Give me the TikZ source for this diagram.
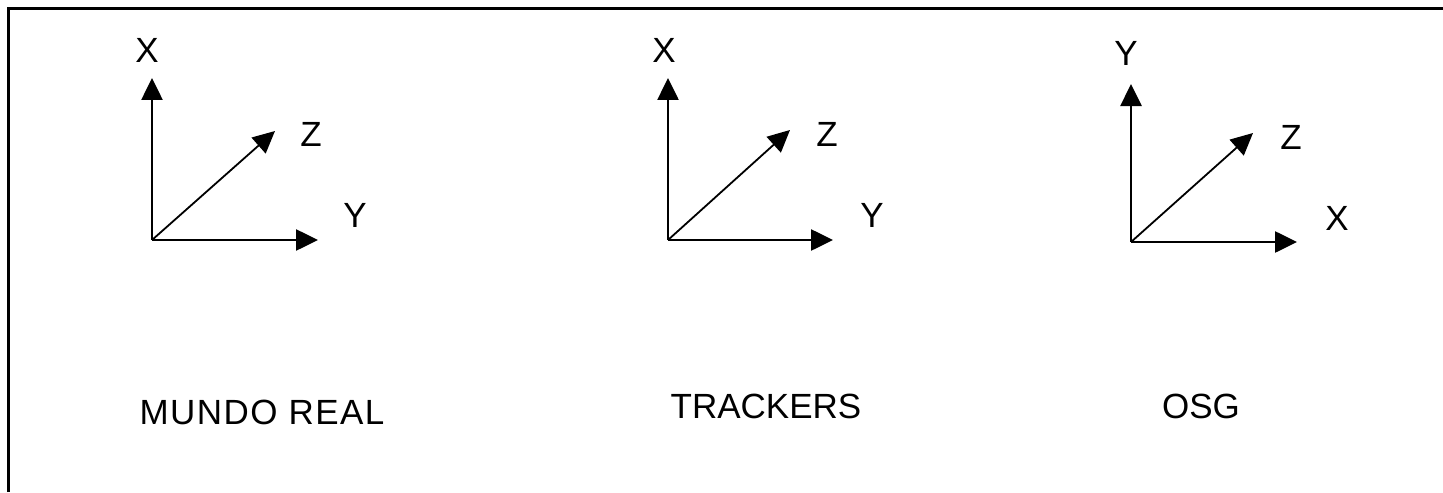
\documentclass[tikz,border=0pt]{standalone}
\usepackage{fontspec}
\setmainfont{Liberation Sans}
\usetikzlibrary{arrows.meta}
\tikzset{
  axis/.style={line width=1.3pt, -{Triangle[length=11pt,width=10.5pt]}},
  diag/.style={line width=0.9pt, -{Triangle[length=11pt,width=10.5pt]}},
  lbl/.style={font=\fontsize{17.5}{20}\selectfont, inner sep=0pt},
  frame/.style={line width=1.5pt}
}
\begin{document}
\begin{tikzpicture}[x=0.5pt,y=-0.5pt]
\useasboundingbox (0,0) rectangle (1443,492);
\coordinate (fb) at (8.5,492);
\coordinate (ft) at (8.5,9);
\coordinate (fr) at (1443,9);
\draw[frame] (fb) -- (ft) -- (fr);
% frame 1
\coordinate (o1) at (152,240);
\coordinate (u1) at (152,78);
\coordinate (r1) at (318,240);
\coordinate (d1) at (275,131);
\draw[axis] (o1) -- (u1);
\draw[axis] (o1) -- (r1);
\draw[diag] (o1) -- (d1);
\node[lbl] (x1) at (147,50) {X};
\node[lbl] (z1) at (311,134) {Z};
\node[lbl] (y1) at (355,215) {Y};
\node[lbl] (t1) at (262,412) {\addfontfeatures{LetterSpace=4}MUNDO REAL};
% frame 2
\coordinate (o2) at (668,240);
\coordinate (u2) at (668,78);
\coordinate (r2) at (833,240);
\coordinate (d2) at (790,130);
\draw[axis] (o2) -- (u2);
\draw[axis] (o2) -- (r2);
\draw[diag] (o2) -- (d2);
\node[lbl] (x2) at (664,50) {X};
\node[lbl] (z2) at (827,134) {Z};
\node[lbl] (y2) at (872,215) {Y};
\node[lbl] (t2) at (766,406) {TRACKERS};
% frame 3
\coordinate (o3) at (1131,242);
\coordinate (u3) at (1131,84);
\coordinate (r3) at (1297,242);
\coordinate (d3) at (1253,133);
\draw[axis] (o3) -- (u3);
\draw[axis] (o3) -- (r3);
\draw[diag] (o3) -- (d3);
\node[lbl] (y3) at (1126,53) {Y};
\node[lbl] (z3) at (1291,137) {Z};
\node[lbl] (x3) at (1337,218) {X};
\node[lbl] (t3) at (1201,406) {OSG};
\end{tikzpicture}
\end{document}
